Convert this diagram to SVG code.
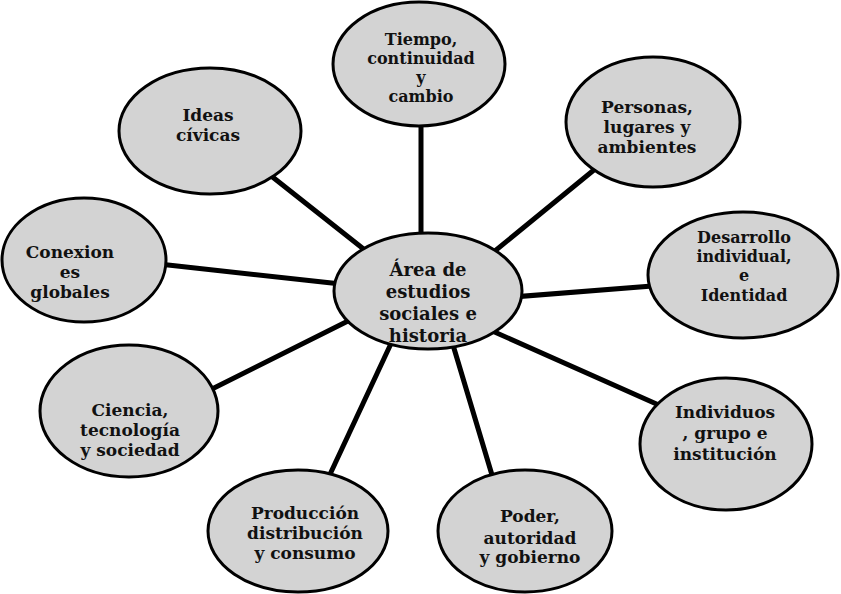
<svg xmlns="http://www.w3.org/2000/svg" width="841" height="594" viewBox="0 0 841 594">
<defs>
<style>
.bg{fill:#ffffff}
.n ellipse{fill:#d3d3d3;stroke:#000;stroke-width:3}
.n text{font-family:"DejaVu Serif","Liberation Serif",serif;font-weight:bold;font-size:17px;fill:#111;text-anchor:middle}
#center text{font-size:18px}
#tiempo text,#desarrollo text{font-size:16px}
.c line{stroke:#000;stroke-width:5;stroke-linecap:round}
</style>
</defs>
<rect class="bg" x="0" y="0" width="841" height="594"/>
<g class="c" id="connectors">
<line x1="421" y1="250" x2="421" y2="110"/>
<line x1="380" y1="262" x2="270" y2="175"/>
<line x1="490" y1="255" x2="600" y2="165"/>
<line x1="350" y1="285" x2="150" y2="263"/>
<line x1="500" y1="298" x2="665" y2="285"/>
<line x1="360" y1="315" x2="200" y2="395"/>
<line x1="490" y1="330" x2="670" y2="410"/>
<line x1="395" y1="335" x2="325" y2="485"/>
<line x1="450" y1="335" x2="495" y2="485"/>
</g>
<g class="n" id="center">
<ellipse cx="428" cy="291" rx="94" ry="58"/>
<text x="428" y="276">Área de</text>
<text x="428" y="298">estudios</text>
<text x="428" y="320">sociales e</text>
<text x="428" y="342">historia</text>
</g>
<g class="n" id="tiempo">
<ellipse cx="419" cy="64" rx="86" ry="62"/>
<text x="421" y="45">Tiempo,</text>
<text x="421" y="64">continuidad</text>
<text x="421" y="83">y</text>
<text x="421" y="102">cambio</text>
</g>
<g class="n" id="ideas">
<ellipse cx="210" cy="131" rx="91" ry="63"/>
<text x="208" y="121">Ideas</text>
<text x="208" y="141">cívicas</text>
</g>
<g class="n" id="personas">
<ellipse cx="653" cy="122" rx="87" ry="65"/>
<text x="647" y="113">Personas,</text>
<text x="647" y="133">lugares y</text>
<text x="647" y="153">ambientes</text>
</g>
<g class="n" id="conexiones">
<ellipse cx="84" cy="260" rx="82" ry="62"/>
<text x="70" y="258">Conexion</text>
<text x="70" y="278">es</text>
<text x="70" y="298">globales</text>
</g>
<g class="n" id="desarrollo">
<ellipse cx="743" cy="275" rx="95" ry="63"/>
<text x="744" y="243">Desarrollo</text>
<text x="744" y="262">individual,</text>
<text x="744" y="281">e</text>
<text x="744" y="301">Identidad</text>
</g>
<g class="n" id="ciencia">
<ellipse cx="129" cy="411" rx="89" ry="66"/>
<text x="130" y="416">Ciencia,</text>
<text x="130" y="436">tecnología</text>
<text x="130" y="456">y sociedad</text>
</g>
<g class="n" id="individuos">
<ellipse cx="726" cy="444" rx="86" ry="66"/>
<text x="725" y="418">Individuos</text>
<text x="725" y="439">, grupo e</text>
<text x="725" y="460">institución</text>
</g>
<g class="n" id="produccion">
<ellipse cx="298" cy="531" rx="90" ry="61"/>
<text x="305" y="519">Producción</text>
<text x="305" y="539">distribución</text>
<text x="305" y="559">y consumo</text>
</g>
<g class="n" id="poder">
<ellipse cx="525" cy="531" rx="87" ry="61"/>
<text x="530" y="522">Poder,</text>
<text x="530" y="544">autoridad</text>
<text x="530" y="563">y gobierno</text>
</g>
</svg>
